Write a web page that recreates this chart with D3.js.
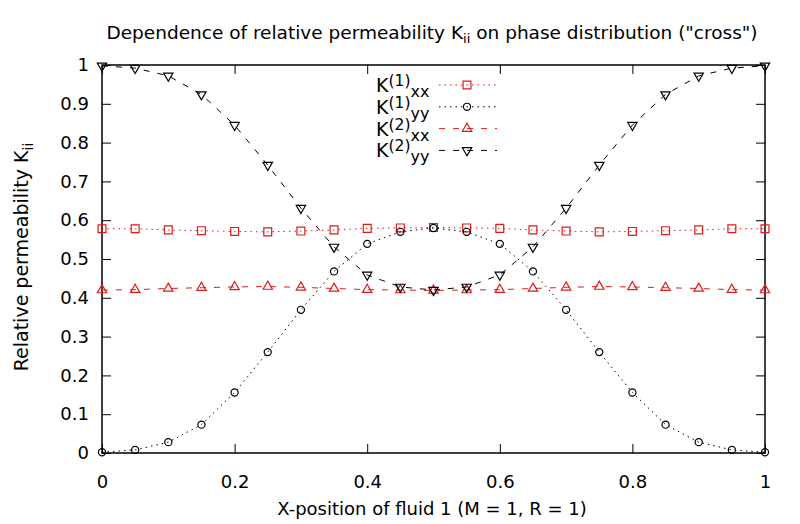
<!DOCTYPE html>
<html>
<head>
<meta charset="utf-8">
<script src="https://cdn.jsdelivr.net/npm/d3@7"></script>
<style>
  body { margin: 0; background: #fff; }
  text { font-family: "DejaVu Sans", sans-serif; }
</style>
</head>
<body>
<script>
// sample positions of fluid 1
var xPos = [0, 0.05, 0.1, 0.15, 0.2, 0.25, 0.3, 0.35, 0.4, 0.45, 0.5,
            0.55, 0.6, 0.65, 0.7, 0.75, 0.8, 0.85, 0.9, 0.95, 1];

var k1xx = [0.578, 0.578, 0.575, 0.573, 0.571, 0.570, 0.572, 0.575, 0.579, 0.580, 0.581,
            0.580, 0.579, 0.575, 0.572, 0.570, 0.571, 0.573, 0.575, 0.578, 0.578];
var k1yy = [0.002, 0.008, 0.028, 0.073, 0.156, 0.260, 0.369, 0.468, 0.539, 0.570, 0.580,
            0.570, 0.539, 0.468, 0.369, 0.260, 0.156, 0.073, 0.028, 0.008, 0.002];
var k2xx = [0.420, 0.421, 0.424, 0.426, 0.428, 0.429, 0.427, 0.424, 0.421, 0.420, 0.419,
            0.420, 0.421, 0.424, 0.427, 0.429, 0.428, 0.426, 0.424, 0.421, 0.420];
var k2yy = [0.998, 0.992, 0.972, 0.924, 0.845, 0.742, 0.631, 0.531, 0.459, 0.428, 0.420,
            0.428, 0.459, 0.531, 0.631, 0.742, 0.845, 0.924, 0.972, 0.992, 0.998];

var xTicks = [0, 0.2, 0.4, 0.6, 0.8, 1];
var yTicks = [0, 0.1, 0.2, 0.3, 0.4, 0.5, 0.6, 0.7, 0.8, 0.9, 1];

var red = "#e01b1b";
var series = [
  {sup: "(1)", sub: "xx", vals: k1xx, color: red, dash: "1.5,4", sym: "square"},
  {sup: "(1)", sub: "yy", vals: k1yy, color: "#000", dash: "1.5,4", sym: "circle"},
  {sup: "(2)", sub: "xx", vals: k2xx, color: red, dash: "6,8", sym: "up"},
  {sup: "(2)", sub: "yy", vals: k2yy, color: "#000", dash: "6,8", sym: "down"}
];

var svgWidth = 800, svgHeight = 524;
var margin = {top: 65, right: 35, bottom: 71, left: 102};
var width = svgWidth - margin.left - margin.right;
var height = svgHeight - margin.top - margin.bottom;

var svg = d3.select("body").append("svg")
    .attr("width", svgWidth)
    .attr("height", svgHeight);

var g = svg.append("g")
    .attr("transform", "translate(" + margin.left + "," + margin.top + ")");

var x = d3.scaleLinear().domain([0, 1]).range([0, width]);
var y = d3.scaleLinear().domain([0, 1]).range([height, 0]);

// axes, ticks pointing inward, mirrored on top/right
function styleAxis(sel) {
  sel.select(".domain").remove();
  sel.selectAll("line").attr("stroke", "#000").attr("stroke-width", 1);
  sel.selectAll("text").attr("font-size", 18).attr("fill", "#000");
}

g.append("g")
  .attr("transform", "translate(0," + height + ")")
  .call(d3.axisBottom(x).tickValues(xTicks).tickSize(-9).tickPadding(22)
        .tickFormat(d3.format("~g")))
  .call(styleAxis);

g.append("g")
  .call(d3.axisTop(x).tickValues(xTicks).tickSize(-9).tickFormat(""))
  .call(styleAxis);

g.append("g")
  .call(d3.axisLeft(y).tickValues(yTicks).tickSize(-9).tickPadding(13)
        .tickFormat(d3.format("~g")))
  .call(styleAxis);

g.append("g")
  .attr("transform", "translate(" + width + ",0)")
  .call(d3.axisRight(y).tickValues(yTicks).tickSize(-9).tickFormat(""))
  .call(styleAxis);

g.append("rect")
  .attr("width", width).attr("height", height)
  .attr("fill", "none").attr("stroke", "#000").attr("stroke-width", 1.5);

var sym = {
  square: d3.symbol().type(d3.symbolSquare).size(62),
  circle: d3.symbol().type(d3.symbolCircle).size(40),
  up: d3.symbol().type(d3.symbolTriangle).size(38),
  down: d3.symbol().type(d3.symbolTriangle).size(38)
};

var line = d3.line()
  .x(function(d, i) { return x(xPos[i]); })
  .y(function(d) { return y(d); });

series.forEach(function(s) {
  g.append("path")
    .attr("d", line(s.vals))
    .attr("fill", "none")
    .attr("stroke", s.color)
    .attr("stroke-width", 1)
    .attr("stroke-dasharray", s.dash);

  g.selectAll(null)
    .data(s.vals)
    .enter()
    .append("path")
    .attr("d", sym[s.sym])
    .attr("transform", function(d, i) {
      return "translate(" + x(xPos[i]) + "," + y(d) + ")" + (s.sym == "down" ? " rotate(180)" : "");
    })
    .attr("fill", "none")
    .attr("stroke", s.color)
    .attr("stroke-width", 1.2);
});

// legend
var leg = svg.append("g").attr("transform", "translate(376,85)");
series.forEach(function(s, i) {
  var row = leg.append("g").attr("transform", "translate(0," + (i * 21.8) + ")");
  var t = row.append("text").attr("y", 7).attr("font-size", 19).attr("fill", "#000");
  t.append("tspan").text("K");
  t.append("tspan").attr("font-size", 15.5).attr("dy", -6).text(s.sup);
  t.append("tspan").attr("font-size", 16).attr("dy", 11).text(s.sub);
  row.append("line")
    .attr("x1", 63).attr("x2", 121).attr("y1", 0).attr("y2", 0)
    .attr("stroke", s.color).attr("stroke-width", 1)
    .attr("stroke-dasharray", s.dash);
  row.append("path")
    .attr("d", sym[s.sym])
    .attr("transform", "translate(91,0)" + (s.sym == "down" ? " rotate(180)" : ""))
    .attr("fill", "none").attr("stroke", s.color).attr("stroke-width", 1.2);
});

// title
var title = svg.append("text")
  .attr("x", 432).attr("y", 39)
  .attr("text-anchor", "middle")
  .attr("font-size", 18.5).attr("fill", "#000");
title.append("tspan").text("Dependence of relative permeability K");
title.append("tspan").attr("font-size", 13).attr("dy", 4).text("ii");
title.append("tspan").attr("dy", -4).text(" on phase distribution (\"cross\")");

// axis labels
svg.append("text")
  .attr("x", 432).attr("y", 515)
  .attr("text-anchor", "middle")
  .attr("font-size", 18).attr("fill", "#000")
  .text("X-position of fluid 1 (M = 1, R = 1)");

var ylab = svg.append("text")
  .attr("transform", "translate(28,257) rotate(-90)")
  .attr("text-anchor", "middle")
  .attr("font-size", 19).attr("fill", "#000");
ylab.append("tspan").text("Relative permeability K");
ylab.append("tspan").attr("font-size", 14).attr("dy", 5).text("ii");
</script>
</body>
</html>
